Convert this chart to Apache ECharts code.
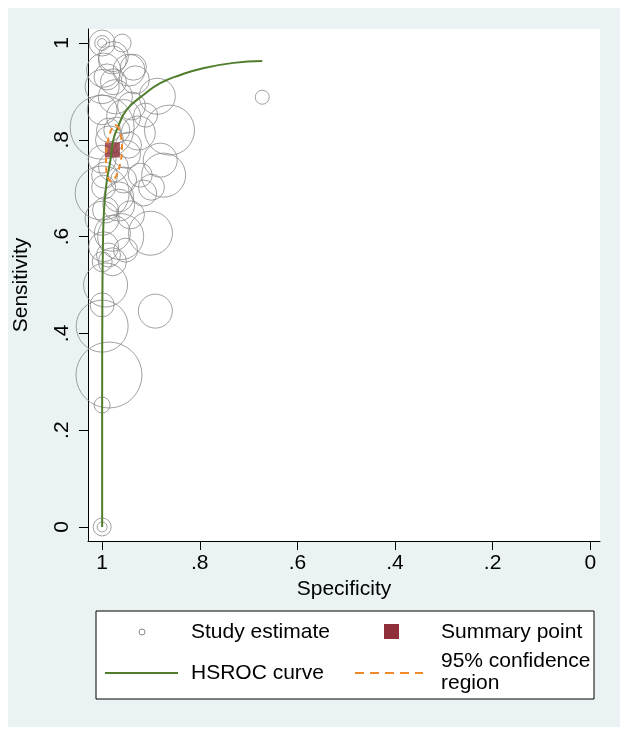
<!DOCTYPE html>
<html>
<head>
<meta charset="utf-8">
<script src="https://cdn.jsdelivr.net/npm/echarts@6/dist/echarts.min.js"></script>
<style>
html,body{margin:0;padding:0;background:#fff;}
#chart{width:629px;height:735px;}
</style>
</head>
<body>
<div id="chart"></div>
<script>
// Study estimates: specificity, sensitivity, study weight (area-proportional)
var studySpec = [1.000,1.000,1.000,0.959,0.977,0.997,0.945,1.000,0.977,0.973,1.000,0.887,0.956,1.000,0.926,0.862,0.881,0.977,0.956,0.997,0.966,0.993,0.874,0.899,0.936,1.000,0.901,0.979,0.962,1.000,0.997,1.000,0.993,1.000,0.891,1.000,0.986,1.000,1.000,1.000,0.672,0.950,0.985,0.940,0.990,0.970,1.000,0.915,0.987,0.979,0.932,0.911,0.987,0.946,0.966,0.942,0.979,0.952,0.995,0.922];
var studySens = [1.000,1.000,1.000,1.000,0.972,0.944,0.944,0.910,0.920,0.889,0.862,0.890,0.848,0.826,0.814,0.820,0.758,0.744,0.717,0.702,0.682,0.655,0.727,0.702,0.950,0.690,0.607,0.607,0.600,0.638,0.579,0.548,0.500,0.459,0.446,0.415,0.314,0.252,0.000,0.000,0.888,0.770,0.800,0.870,0.930,0.820,0.760,0.690,0.562,0.965,0.924,0.851,0.820,0.789,0.665,0.645,0.548,0.572,0.727,0.727];
var studyWeight = [20,56,169,81,225,289,256,289,169,289,225,324,289,1024,289,625,289,225,169,144,225,169,484,169,169,729,484,324,529,289,225,100,484,144,289,676,1089,64,81,25,49,196,196,196,169,169,196,169,144,196,196,144,144,169,256,196,196,144,169,144];

// Summary point
var summarySpec = [0.979];
var summarySens = [0.779];

// HSROC curve
var curveSpec = [1.000,1.000,0.9996,0.9988,0.9965,0.991,0.983,0.977,0.9685,0.950,0.915,0.881,0.840,0.793,0.731,0.672];
var curveSens = [0.000,0.262,0.448,0.552,0.649,0.711,0.758,0.800,0.824,0.862,0.893,0.917,0.934,0.948,0.959,0.963];

// 95% confidence region
var ciSpec = [0.9706,0.9644,0.9604,0.9593,0.9624,0.9685,0.9767,0.9828,0.9890,0.9920,0.9920,0.9890,0.9839,0.9767,0.9706];
var ciSens = [0.8306,0.8202,0.7996,0.7789,0.7541,0.7314,0.7169,0.7149,0.7252,0.7459,0.7686,0.7934,0.8140,0.8285,0.8306];

// Axis ticks
var tickValues = [0,0.2,0.4,0.6,0.8,1];
var tickLabels = ['0','.2','.4','.6','.8','1'];

var legendLabels = ['Study estimate','Summary point','HSROC curve','95% confidence\nregion'];

function zip(a,b,c){var r=[];for(var i=0;i<a.length;i++){r.push(c?[a[i],b[i],c[i]]:[a[i],b[i]]);}return r;}
function fmt(v){for(var i=0;i<tickValues.length;i++){if(Math.abs(tickValues[i]-v)<1e-9)return tickLabels[i];}return '';}

var FONT = "'Liberation Sans', Arial, Helvetica, sans-serif";
var GRAY = '#8a8a8a', GREEN = '#4f7d2c', ORANGE = '#f0892a', MAROON = '#8e2f3a';

var chart = echarts.init(document.getElementById('chart'), null, {renderer:'canvas'});
chart.setOption({
  animation:false,
  backgroundColor:'#fff',
  textStyle:{fontFamily:FONT},
  grid:{left:88, right:29, top:29, bottom:194, show:true, backgroundColor:'#fff', borderWidth:0},
  xAxis:{
    type:'value', inverse:true, min:-0.02, max:1.029,
    splitLine:{show:false},
    axisLine:{show:true, onZero:false, lineStyle:{color:'#000', width:1}},
    axisTick:{show:true, customValues:tickValues, length:9, lineStyle:{color:'#000'}},
    axisLabel:{customValues:tickValues, formatter:fmt, fontSize:21, color:'#000', margin:12, fontFamily:FONT},
    name:'Specificity', nameLocation:'middle', nameGap:34,
    nameTextStyle:{fontSize:21, color:'#000', fontFamily:FONT}
  },
  yAxis:{
    type:'value', min:-0.029, max:1.029,
    splitLine:{show:false},
    axisLine:{show:true, onZero:false, lineStyle:{color:'#000', width:1}},
    axisTick:{show:true, customValues:tickValues, length:9, lineStyle:{color:'#000'}},
    axisLabel:{customValues:tickValues, formatter:fmt, fontSize:21, color:'#000', margin:15, rotate:90, fontFamily:FONT},
    name:'Sensitivity', nameLocation:'middle', nameGap:56,
    nameTextStyle:{fontSize:21, color:'#000', fontFamily:FONT}
  },
  series:[
    {type:'scatter', name:'Study estimate', data:zip(studySpec,studySens,studyWeight),
     symbol:'circle', symbolSize:function(v){return 2*Math.sqrt(v[2]);},
     itemStyle:{color:'rgba(0,0,0,0)', borderColor:GRAY, borderWidth:1},
     emphasis:{disabled:true}, silent:true, z:2},
    {type:'scatter', name:'Summary point', data:zip(summarySpec,summarySens),
     symbol:'rect', symbolSize:15, itemStyle:{color:MAROON},
     emphasis:{disabled:true}, silent:true, z:3},
    {type:'line', name:'HSROC curve', data:zip(curveSpec,curveSens), smooth:true,
     showSymbol:false, symbol:'none', lineStyle:{color:GREEN, width:2},
     emphasis:{disabled:true}, silent:true, z:4},
    {type:'line', name:'95% confidence region', data:zip(ciSpec,ciSens), smooth:0.4,
     showSymbol:false, symbol:'none', lineStyle:{color:ORANGE, width:2, type:[6,4]},
     emphasis:{disabled:true}, silent:true, z:5}
  ],
  graphic:{elements:[
    {type:'rect', z:-100, shape:{x:8,y:8,width:612,height:719}, style:{fill:'#eaf2f4'}},
    {type:'rect', z:100, shape:{x:96,y:611,width:498,height:88}, style:{fill:'#fff', stroke:'#000', lineWidth:1}},
    {type:'circle', z:101, shape:{cx:142,cy:632,r:3}, style:{fill:'none', stroke:GRAY, lineWidth:1}},
    {type:'text', z:101, x:191, y:632, style:{text:legendLabels[0], font:'21px '+FONT, fill:'#000', verticalAlign:'middle'}},
    {type:'rect', z:101, shape:{x:384,y:624,width:15,height:15}, style:{fill:MAROON}},
    {type:'text', z:101, x:441, y:632, style:{text:legendLabels[1], font:'21px '+FONT, fill:'#000', verticalAlign:'middle'}},
    {type:'line', z:101, shape:{x1:105,y1:673,x2:178,y2:673}, style:{stroke:GREEN, lineWidth:2}},
    {type:'text', z:101, x:191, y:673, style:{text:legendLabels[2], font:'21px '+FONT, fill:'#000', verticalAlign:'middle'}},
    {type:'line', z:101, shape:{x1:355,y1:673,x2:423,y2:673}, style:{stroke:ORANGE, lineWidth:2, lineDash:[9,6]}},
    {type:'text', z:101, x:441, y:672, style:{text:legendLabels[3], font:'21px '+FONT, fill:'#000', verticalAlign:'middle', lineHeight:22}}
  ]}
});
</script>
</body>
</html>
